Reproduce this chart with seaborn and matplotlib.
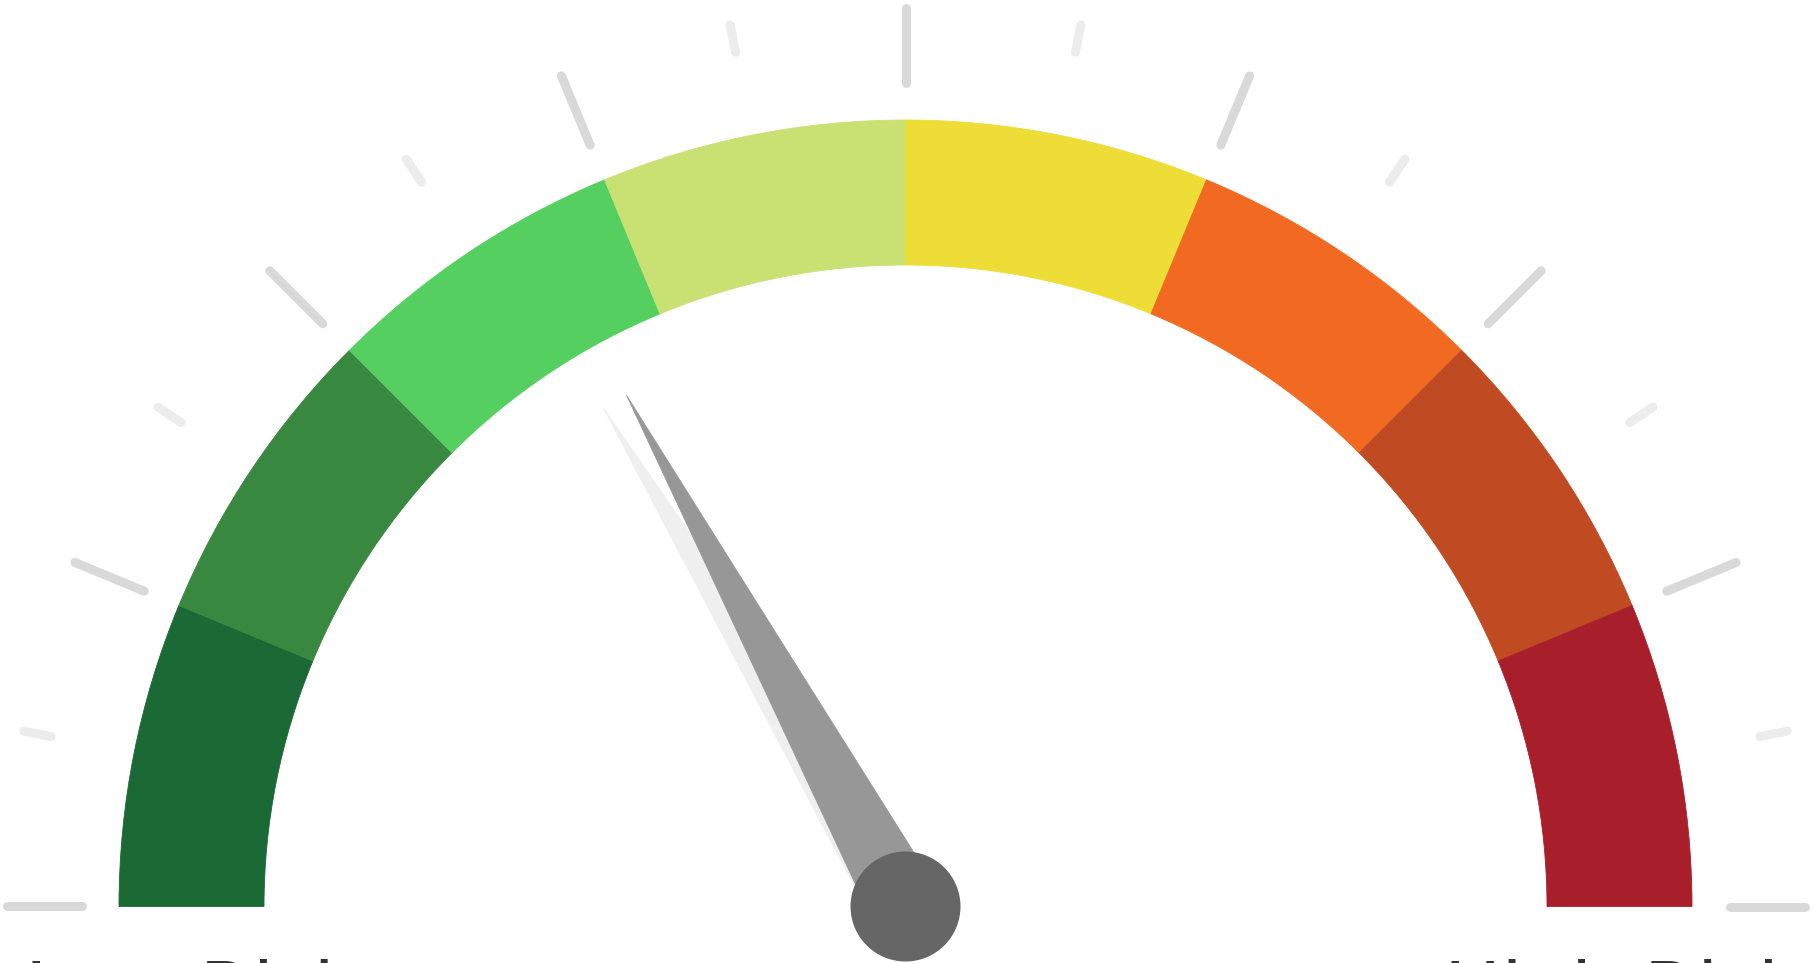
import numpy as np
import matplotlib
matplotlib.use("Agg")
import matplotlib.pyplot as plt
from matplotlib.patches import Wedge, Polygon, Circle
import seaborn as sns

# ---- data ----
band_colors = ["#1b6934", "#398840", "#55cf60", "#c9e072",
               "#eedd37", "#f26922", "#c04b22", "#a81f2b"]
gauge_min = 0
gauge_max = 100
needle_value = 34.1
shadow_offset_deg = 2.6
end_labels = ["Low Risk", "High Risk"]

sns.set_theme(style="white")
palette = sns.color_palette(band_colors)

W, H = 1813, 963
fig = plt.figure(figsize=(W / 100, H / 100), dpi=100)
ax = fig.add_axes([0, 0, 1, 1])
ax.set_xlim(0, W)
ax.set_ylim(0, H)
ax.axis("off")

cx, cy = 905.5, H - 906.5
r_out, r_in = 786.5, 641.5

n = len(band_colors)
step = 180.0 / n
for i, col in enumerate(palette):
    t2 = 180 - i * step
    t1 = t2 - step
    ax.add_patch(Wedge((cx, cy), r_out, t1, t2, width=r_out - r_in,
                       facecolor=col, edgecolor=col, linewidth=0.6))

# ticks
lw = 9 * 72 / 100
for k in range(2 * n + 1):
    ang = np.deg2rad(180 - k * step / 2)
    major = k % 2 == 0
    r0 = 824 if major else 871
    r1 = 899
    ax.plot([cx + r0 * np.cos(ang), cx + r1 * np.cos(ang)],
            [cy + r0 * np.sin(ang), cy + r1 * np.sin(ang)],
            color="#d9d9d9" if major else "#ececec", lw=lw,
            solid_capstyle="round", zorder=1)

# needle
def needle(angle_deg, color, z):
    a = np.deg2rad(angle_deg)
    u = np.array([np.cos(a), np.sin(a)])
    nv = np.array([-u[1], u[0]])
    L, hw = 583, 36
    c = np.array([cx, cy])
    pts = [c + L * u, c + hw * nv, c - hw * nv]
    ax.add_patch(Polygon(pts, closed=True, facecolor=color,
                         edgecolor=color, linewidth=0.5, zorder=z))

ang_v = 180 - (needle_value - gauge_min) / (gauge_max - gauge_min) * 180
needle(ang_v + shadow_offset_deg, "#efefef", 3)
needle(ang_v, "#979797", 4)
ax.add_patch(Circle((cx, cy), 55, facecolor="#666666", edgecolor="none", zorder=5))

# end labels (mostly below the canvas, as in the original)
ax.text(25, H - 1017, end_labels[0], ha="left", va="baseline",
        fontsize=55, color="#333333", family="DejaVu Sans")
ax.text(1444.5, H - 1017, end_labels[1], ha="left", va="baseline",
        fontsize=55, color="#333333", family="DejaVu Sans")

fig.savefig("out.png", dpi=100)
